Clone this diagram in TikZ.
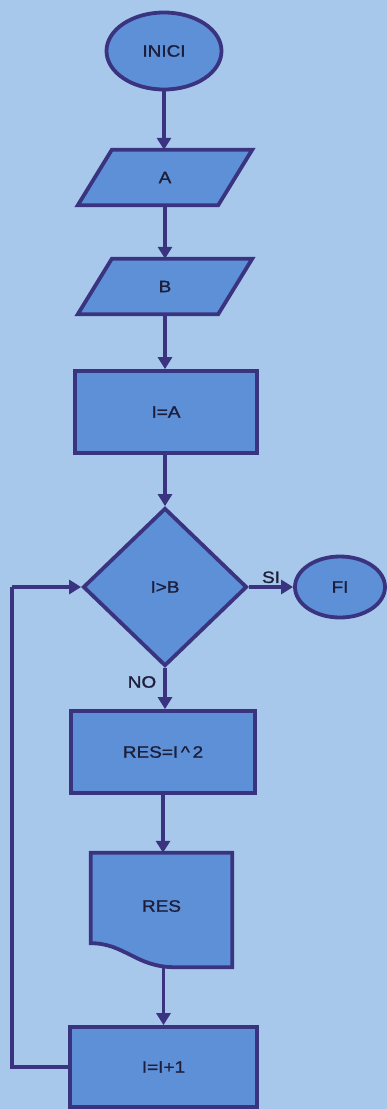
\documentclass[tikz,border=0pt]{standalone}
\usepackage{fontspec}
\setmainfont{Liberation Sans}[FakeStretch=1.15,FakeBold=1.2]
\usetikzlibrary{shapes.geometric,arrows.meta,calc}
\pgfdeclarelayer{bg}
\pgfdeclarelayer{back}
\pgfsetlayers{bg,back,main}
\definecolor{bgc}{RGB}{168,200,235}
\definecolor{fillc}{RGB}{93,144,214}
\definecolor{linec}{RGB}{58,52,128}
\definecolor{txtc}{RGB}{28,30,60}
\begin{document}
\begin{tikzpicture}[x=1pt,y=-1pt,
  every node/.style={font=\fontsize{16.5}{19}\selectfont, text=txtc},
  shapeline/.style={draw=linec, fill=fillc, line width=3.8pt, line join=miter},
  box/.style={shapeline, inner sep=0pt},
  proc/.style={rectangle, box},
  term/.style={ellipse, box},
  decis/.style={diamond, box, minimum width=164pt, minimum height=158pt},
  ghost/.style={rectangle, inner sep=0pt},
  arr/.style={draw=linec, line width=3.8pt, -{Triangle[length=12pt,width=14pt]}},
  conn/.style={draw=linec, line width=3.8pt}]
\useasboundingbox (0,0) rectangle (387,1109);
\begin{pgfonlayer}{bg}
\fill[bgc] (0,0) rectangle (387,1109);
\end{pgfonlayer}

\node[term, minimum width=115pt, minimum height=77pt] (inici) at (164,51) {INICI};
\node[ghost, minimum width=174pt, minimum height=55pt] (A) at (165,177.5) {A};
\node[ghost, minimum width=174pt, minimum height=55pt] (B) at (165,286.5) {B};
\node[proc, minimum width=182pt, minimum height=82pt] (IA) at (166,412) {I=A};
\node[decis] (dec) at (165,587) {I>B};
\node[term, minimum width=90pt, minimum height=61pt] (fi) at (340,587) {FI};
\node[proc, minimum width=184pt, minimum height=82pt] (res2) at (163,752) {RES=I\,\textasciicircum\,2};
\node[ghost, minimum width=141pt, minimum height=114pt] (res) at (161.5,910) {};
\node (restxt) at (161.5,906) {RES};
\node[proc, minimum width=187pt, minimum height=80pt] (inc) at (163.5,1067) {I=I+1};
\coordinate (lp) at (12,587);

\begin{pgfonlayer}{back}
\draw[shapeline] (A.south west) -- ($(A.north west)+(34,0)$) -- (A.north east) -- ($(A.south east)+(-34,0)$) -- cycle;
\draw[shapeline] (B.south west) -- ($(B.north west)+(34,0)$) -- (B.north east) -- ($(B.south east)+(-34,0)$) -- cycle;
\draw[shapeline] (res.north west) -- (res.north east) -- (res.south east) -- ($(res.south west)+(84,0)$)
  .. controls ($(res.south west)+(45,0)$) and ($(res.south west)+(34,-24)$) .. ($(res.south west)+(0,-24)$) -- cycle;
\end{pgfonlayer}

\draw[arr] (inici.south) -- (inici.south |- A.north);
\draw[arr] (A.south) -- (A.south |- B.north);
\draw[arr] (B.south) -- (B.south |- IA.north);
\draw[arr] (IA.south -| dec.north) -- (dec.north);
\draw[arr] (dec.east) -- node[above=1pt, inner sep=1pt] (si) {SI} (fi.west);
\draw[arr] (dec.south) -- (dec.south |- res2.north);
\node (no) at (142,682) {NO};
\draw[arr] (res2.south) -- (res2.south |- res.north);
\draw[arr] (res.south -| inc.north) -- (inc.north);
\draw[conn] (inc.west) -| (lp);
\draw[arr] (lp) -- (dec.west);
\end{tikzpicture}
\end{document}
